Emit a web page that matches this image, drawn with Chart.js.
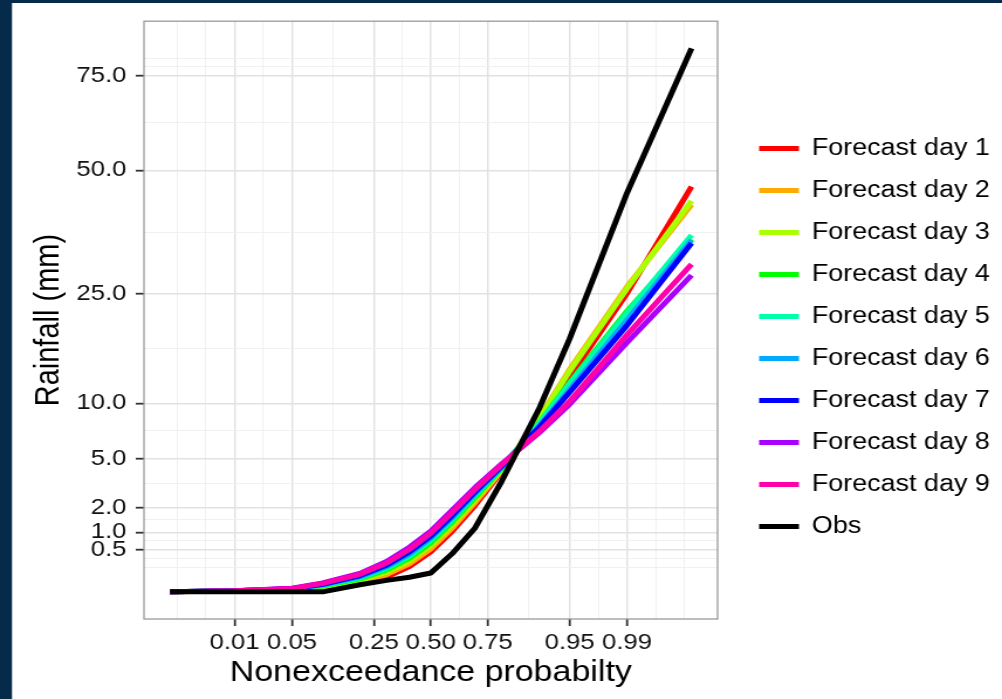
<!DOCTYPE html>
<html>
<head>
<meta charset="utf-8">
<title>Rainfall quantiles by forecast day</title>
<script src="https://cdn.jsdelivr.net/npm/chart.js@4/dist/chart.umd.min.js"></script>
<style>
  html, body { margin: 0; padding: 0; background: #062a4a; overflow: hidden; }
  /* the source figure is stretched sideways, so the chart is drawn narrower and widened */
  #wrap { position: absolute; left: 0; top: 0; width: 856px; height: 699px; transform: scaleX(1.1706); transform-origin: 0 0; }
</style>
</head>
<body>
<div id="wrap"><canvas id="chart" width="856" height="699"></canvas></div>
<script>
// nonexceedance probabilities of the plotted quantiles
const probs = [0.001, 0.01, 0.05, 0.1, 0.2, 0.3, 0.4, 0.5, 0.6, 0.7, 0.8, 0.9, 0.95, 0.99, 0.999];

// rainfall (mm) at each probability
const day1 = [0, 0.0002, 0.001, 0.003, 0.02, 0.062, 0.18, 0.45, 1.03, 2.1, 4.08, 8.2, 13.0, 25.1, 46.2];
const day2 = [0, 0.0002, 0.0012, 0.0048, 0.027, 0.084, 0.22, 0.52, 1.14, 2.24, 4.15, 8.45, 13.9, 26.2, 42.2];
const day3 = [0, 0.0003, 0.0015, 0.007, 0.036, 0.108, 0.27, 0.6, 1.26, 2.37, 4.2, 8.35, 13.7, 25.9, 43.0];
const day4 = [0, 0.0003, 0.0019, 0.0096, 0.047, 0.135, 0.32, 0.685, 1.38, 2.51, 4.3, 8.0, 12.3, 22.2, 35.0];
const day5 = [0, 0.0003, 0.0022, 0.0115, 0.055, 0.154, 0.36, 0.744, 1.46, 2.61, 4.35, 7.95, 12.2, 21.9, 35.8];
const day6 = [0, 0.0003, 0.0025, 0.0137, 0.063, 0.176, 0.4, 0.81, 1.55, 2.71, 4.4, 7.7, 11.5, 20.8, 34.8];
const day7 = [0, 0.0003, 0.0028, 0.016, 0.072, 0.198, 0.45, 0.87, 1.64, 2.81, 4.45, 7.6, 11.2, 20.0, 34.2];
const day8 = [0, 0.0004, 0.0036, 0.0225, 0.096, 0.26, 0.56, 1.04, 1.88, 3.06, 4.62, 7.1, 9.9, 17.5, 28.2];
const day9 = [0, 0.0004, 0.0032, 0.02, 0.086, 0.234, 0.51, 0.97, 1.78, 2.96, 4.55, 7.2, 10.2, 18.6, 30.2];
const obs = [0, 0, 0, 0, 0.014, 0.037, 0.06, 0.1, 0.41, 1.15, 3.45, 9.4, 18.0, 44.8, 83.1];

const seriesLabels = ['Forecast day 1', 'Forecast day 2', 'Forecast day 3', 'Forecast day 4', 'Forecast day 5',
    'Forecast day 6', 'Forecast day 7', 'Forecast day 8', 'Forecast day 9', 'Obs'];
const seriesValues = [day1, day2, day3, day4, day5, day6, day7, day8, day9, obs];
const seriesColors = ['#FF0000', '#FFAA00', '#AAFF00', '#00FF00', '#00FFAA', '#00AAFF', '#0000FF', '#AA00FF', '#FF00AA', '#000000'];

const xTickProbs = [0.01, 0.05, 0.25, 0.5, 0.75, 0.95, 0.99];
const xTickLabels = ['0.01', '0.05', '0.25', '0.50', '0.75', '0.95', '0.99'];
const yTickValues = [0.5, 1, 2, 5, 10, 25, 50, 75];
const yTickLabels = ['0.5', '1.0', '2.0', '5.0', '10.0', '25.0', '50.0', '75.0'];

const FONT = '"Liberation Sans", Arial, sans-serif';
Chart.defaults.font.family = FONT;

// inverse standard normal cdf (Acklam), used as the probit transform of the x axis
function qnorm(p) {
    const a = [-3.969683028665376e+01, 2.209460984245205e+02, -2.759285104469687e+02, 1.383577518672690e+02, -3.066479806614716e+01, 2.506628277459239e+00];
    const b = [-5.447609879822406e+01, 1.615858368580409e+02, -1.556989798598866e+02, 6.680131188771972e+01, -1.328068155288572e+01];
    const c = [-7.784894002430293e-03, -3.223964580411365e-01, -2.400758277161838e+00, -2.549671875714059e+00, 4.374664141464968e+00, 2.938163982698783e+00];
    const d = [7.784695709041462e-03, 3.224671290700398e-01, 2.445134137142996e+00, 3.754408661907416e+00];
    const pLow = 0.02425;
    if (p < pLow) {
        const q = Math.sqrt(-2 * Math.log(p));
        return (((((c[0] * q + c[1]) * q + c[2]) * q + c[3]) * q + c[4]) * q + c[5]) / ((((d[0] * q + d[1]) * q + d[2]) * q + d[3]) * q + 1);
    }
    if (p <= 1 - pLow) {
        const q = p - 0.5, r = q * q;
        return (((((a[0] * r + a[1]) * r + a[2]) * r + a[3]) * r + a[4]) * r + a[5]) * q / (((((b[0] * r + b[1]) * r + b[2]) * r + b[3]) * r + b[4]) * r + 1);
    }
    return -qnorm(1 - p);
}

function expandRange(lo, hi) {
    const pad = (hi - lo) * 0.05;
    return [lo - pad, hi + pad];
}

// minor grid lines the way ggplot places them: halfway between majors, plus one step past each end
function minorBreaks(major, lo, hi) {
    const b = major.slice();
    const step = b[1] - b[0];
    if (lo < b[0]) b.unshift(b[0] - step);
    if (hi > b[b.length - 1]) b.push(b[b.length - 1] + step);
    const out = [];
    for (let i = 0; i < b.length - 1; i++) {
        out.push(b[i], (b[i] + b[i + 1]) / 2);
    }
    out.push(b[b.length - 1]);
    return out.filter(v => v >= lo && v <= hi && !major.some(m => Math.abs(m - v) < 1e-9));
}

function makeTicks(major, lo, hi) {
    const ticks = major.map(v => ({ value: v, isMajor: true }));
    minorBreaks(major, lo, hi).forEach(v => ticks.push({ value: v, isMajor: false }));
    return ticks.sort((p, q) => p.value - q.value);
}

function labelFor(value, major, labels) {
    const i = major.findIndex(m => Math.abs(m - value) < 1e-9);
    return i < 0 ? '' : labels[i];
}

const xMajor = xTickProbs.map(qnorm);
const yMajor = yTickValues.map(Math.sqrt);
const xData = probs.map(qnorm);
const [xMin, xMax] = expandRange(Math.min(...xData), Math.max(...xData));
const yData = seriesValues.flat().map(Math.sqrt);
const [yMin, yMax] = expandRange(Math.min(...yData), Math.max(...yData));

const isMajor = ctx => ctx.tick && ctx.tick.isMajor;
const gridStyle = {
    color: ctx => isMajor(ctx) ? '#e2e2e2' : '#efefef',
    lineWidth: ctx => isMajor(ctx) ? 1.4 : 0.9,
    drawTicks: true,
    tickLength: 7,
    tickWidth: 1.8,
    tickColor: ctx => isMajor(ctx) ? '#333333' : 'rgba(0,0,0,0)'
};

const backdrop = {
    id: 'backdrop',
    beforeDraw(chart) {
        const { ctx, width, height } = chart;
        ctx.save();
        ctx.fillStyle = '#062a4a';
        ctx.fillRect(0, 0, width, height);
        ctx.fillStyle = '#ffffff';
        ctx.fillRect(10.25, 3, width - 10.25, height - 3);
        ctx.restore();
    }
};

const panelBorder = {
    id: 'panelBorder',
    afterDatasetsDraw(chart) {
        const { ctx, chartArea: a } = chart;
        ctx.save();
        ctx.strokeStyle = '#9a9a9a';
        ctx.lineWidth = 1.3;
        ctx.strokeRect(a.left, a.top, a.right - a.left, a.bottom - a.top);
        ctx.restore();
    }
};

const sideLegend = {
    id: 'sideLegend',
    afterDraw(chart) {
        const { ctx, chartArea: a } = chart;
        const keyLeft = a.right + 35.5;
        const keyWidth = 34;
        const rowGap = 42;
        const firstRow = a.top + 127.3;
        ctx.save();
        ctx.font = '23px ' + FONT;
        ctx.textBaseline = 'middle';
        ctx.fillStyle = '#000000';
        chart.data.datasets.forEach((ds, i) => {
            const y = firstRow + i * rowGap;
            ctx.strokeStyle = ds.borderColor;
            ctx.lineWidth = ds.borderWidth;
            ctx.lineCap = 'butt';
            ctx.beginPath();
            ctx.moveTo(keyLeft, y);
            ctx.lineTo(keyLeft + keyWidth, y);
            ctx.stroke();
            ctx.fillText(ds.label, keyLeft + keyWidth + 11, y);
        });
        ctx.restore();
    }
};

const datasets = seriesLabels.map((label, i) => ({
    label: label,
    data: probs.map((p, j) => ({ x: qnorm(p), y: Math.sqrt(seriesValues[i][j]) })),
    borderColor: seriesColors[i],
    backgroundColor: seriesColors[i],
    borderWidth: 5,
    borderJoinStyle: 'round',
    pointRadius: 0,
    tension: 0,
    order: seriesLabels.length - 1 - i   // Obs drawn last, on top
}));

new Chart(document.getElementById('chart'), {
    type: 'line',
    data: { datasets: datasets },
    plugins: [backdrop, panelBorder, sideLegend],
    options: {
        responsive: false,
        animation: false,
        events: [],
        layout: { padding: { left: 0, top: 18, right: 243, bottom: 0 } },
        plugins: {
            legend: { display: false },
            tooltip: { enabled: false }
        },
        scales: {
            x: {
                type: 'linear',
                min: xMin,
                max: xMax,
                bounds: 'data',
                afterBuildTicks: axis => { axis.ticks = makeTicks(xMajor, xMin, xMax); },
                afterFit: axis => { axis.height = 80; },
                grid: gridStyle,
                border: { display: false },
                ticks: {
                    autoSkip: false,
                    maxRotation: 0,
                    padding: 4,
                    color: '#111111',
                    font: { size: 22 },
                    callback: v => labelFor(v, xMajor, xTickLabels)
                },
                title: {
                    display: true,
                    text: 'Nonexceedance probabilty',
                    color: '#000000',
                    font: { size: 29 },
                    padding: { top: 0, bottom: 9 }
                }
            },
            y: {
                type: 'linear',
                min: yMin,
                max: yMax,
                bounds: 'data',
                afterBuildTicks: axis => { axis.ticks = makeTicks(yMajor, yMin, yMax); },
                afterFit: axis => { axis.width = 123; },
                grid: gridStyle,
                border: { display: false },
                ticks: {
                    autoSkip: false,
                    padding: 8,
                    color: '#111111',
                    font: { size: 22 },
                    callback: v => labelFor(v, yMajor, yTickLabels)
                },
                title: {
                    display: true,
                    text: 'Rainfall (mm)',
                    color: '#000000',
                    font: { size: 29 },
                    padding: { top: 25, bottom: 0 }
                }
            }
        }
    }
});
</script>
</body>
</html>
